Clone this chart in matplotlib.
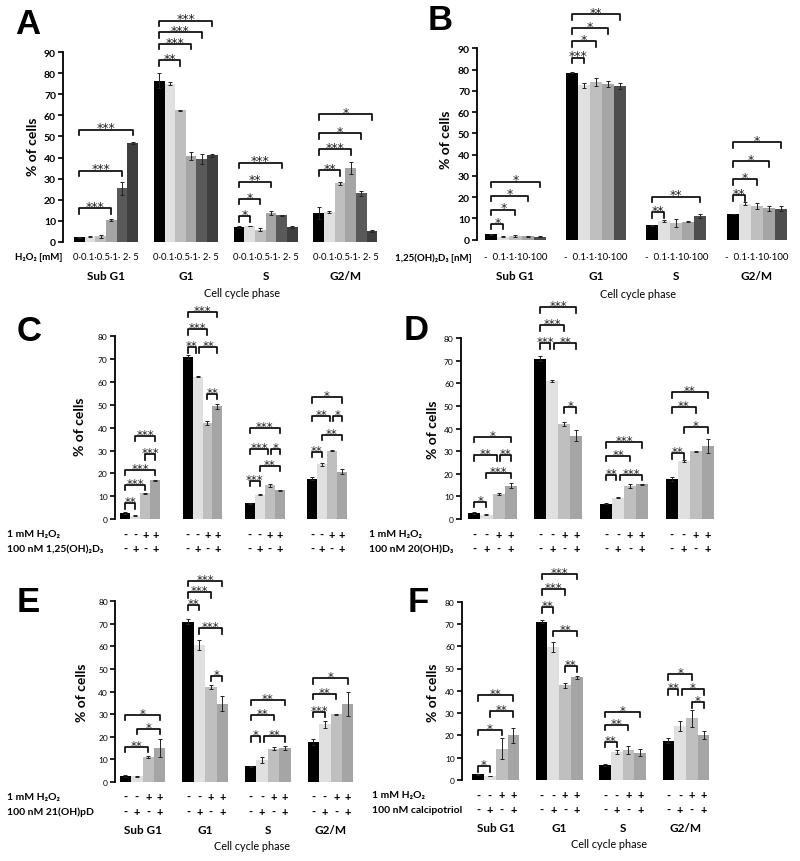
import numpy as np
import matplotlib.pyplot as plt
from matplotlib import transforms

plt.rcParams['font.family'] = ['Lato', 'DejaVu Sans']

W, H = 800, 862

phases = ['Sub G1', 'G1', 'S', 'G2/M']

# A: H2O2 dose (0, 0.1, 0.5, 1, 2, 5 mM)
a_vals = [[2.2, 2.5, 2.7, 10.5, 25.4, 46.8],
          [76.5, 75.0, 62.3, 40.8, 39.3, 41.0],
          [7.2, 7.6, 5.9, 13.6, 12.7, 7.2],
          [13.8, 14.2, 27.8, 35.2, 23.0, 5.3]]
a_errs = [[0.3, 0.3, 0.8, 0.6, 3.2, 0.4],
          [3.5, 0.7, 0.3, 2.0, 2.5, 0.8],
          [0.6, 0.2, 0.5, 1.0, 0.3, 0.5],
          [3.0, 0.3, 0.8, 2.8, 1.2, 0.4]]
a_sig = [(0, 0, 3, 16.0, '***'), (0, 0, 4, 33.8, '***'), (0, 0, 5, 53.2, '***'),
         (1, 0, 2, 86.2, '**'), (1, 0, 3, 93.8, '***'), (1, 0, 4, 99.3, '***'), (1, 0, 5, 104.8, '***'),
         (2, 0, 1, 12.2, '*'), (2, 0, 2, 20.4, '*'), (2, 0, 3, 28.6, '**'), (2, 0, 4, 37.6, '***'),
         (3, 0, 2, 34.1, '**'), (3, 0, 3, 44.0, '***'), (3, 0, 4, 51.6, '*'), (3, 0, 5, 60.6, '*')]

# B: 1,25(OH)2D3 dose (-, 0.1, 1, 10, 100 nM)
b_vals = [[2.5, 1.5, 1.7, 1.6, 1.5],
          [78.6, 72.5, 74.2, 73.3, 72.3],
          [6.7, 8.8, 8.0, 8.4, 11.2],
          [12.0, 17.0, 15.8, 14.7, 14.6]]
b_errs = [[0.2, 0.2, 0.3, 0.3, 0.2],
          [0.3, 1.0, 1.8, 1.5, 1.3],
          [0.3, 0.5, 1.8, 0.3, 1.1],
          [0.1, 0.5, 1.3, 1.2, 1.2]]
b_sig = [(0, 0, 1, 7.4, '*'), (0, 0, 2, 14.1, '*'), (0, 0, 3, 20.7, '*'), (0, 0, 4, 27.3, '*'),
         (1, 0, 1, 85.6, '***'), (1, 0, 2, 93.3, '*'), (1, 0, 3, 99.4, '*'), (1, 0, 4, 106.1, '**'),
         (2, 0, 1, 12.9, '**'), (2, 0, 4, 20.2, '**'),
         (3, 0, 1, 21.0, '**'), (3, 0, 2, 28.5, '*'), (3, 0, 3, 36.9, '*'), (3, 0, 4, 45.8, '*')]

# C: H2O2 +/- 1,25(OH)2D3
c_vals = [[2.6, 1.5, 11.2, 17.0],
          [71.0, 62.3, 42.0, 49.3],
          [6.8, 10.7, 14.7, 12.6],
          [17.6, 23.9, 29.9, 20.7]]
c_errs = [[0.3, 0.2, 0.4, 0.3],
          [1.0, 0.3, 1.0, 1.0],
          [0.3, 0.3, 0.5, 0.3],
          [0.6, 0.6, 0.2, 1.2]]
c_sig = [(0, 0, 1, 7.0, '**'), (0, 0, 2, 14.9, '***'), (0, 0, 3, 21.6, '***'), (0, 2, 3, 28.3, '***'), (0, 1, 3, 36.5, '***'),
         (1, 0, 0.85, 75.2, '**'), (1, 1.15, 3, 75.2, '**'), (1, 0, 2, 83.2, '***'), (1, 0, 3, 90.8, '***'), (1, 2, 3, 54.8, '**'),
         (2, 0, 1, 16.8, '***'), (2, 1, 3, 23.4, '**'), (2, 0, 1.85, 30.7, '***'), (2, 2.15, 3, 30.7, '*'), (2, 0, 3, 39.9, '***'),
         (3, 0, 1, 29.5, '**'), (3, 1, 3, 36.8, '**'), (3, 0, 1.85, 45.3, '**'), (3, 2.15, 3, 45.3, '*'), (3, 0, 3, 53.3, '*')]

# D: H2O2 +/- 20(OH)D3
d_vals = [[2.6, 1.8, 11.2, 14.8],
          [71.0, 61.0, 42.0, 36.8],
          [6.8, 9.5, 14.7, 15.4],
          [17.6, 25.7, 29.9, 32.3]]
d_errs = [[0.3, 0.2, 0.5, 1.2],
          [1.0, 0.3, 1.0, 2.5],
          [0.2, 0.4, 0.8, 0.3],
          [1.0, 0.5, 0.2, 3.0]]
d_sig = [(0, 0, 1, 7.7, '*'), (0, 1, 3, 20.4, '***'), (0, 0, 1.85, 28.3, '**'), (0, 2.15, 3, 28.3, '**'), (0, 0, 3, 36.4, '*'),
         (1, 0, 0.85, 77.7, '***'), (1, 1.15, 3, 77.7, '**'), (1, 0, 2, 85.8, '***'), (1, 0, 3, 93.7, '***'), (1, 2, 3, 49.4, '*'),
         (2, 0, 0.85, 19.5, '**'), (2, 1.15, 3, 19.5, '***'), (2, 0, 2, 28.0, '**'), (2, 0, 3, 33.9, '***'),
         (3, 0, 1, 29.2, '**'), (3, 1, 3, 40.6, '*'), (3, 0, 2, 49.4, '**'), (3, 0, 3, 56.0, '**')]

# E: H2O2 +/- 21(OH)pD
e_vals = [[2.6, 2.5, 11.0, 14.8],
          [71.0, 60.6, 42.0, 34.6],
          [6.8, 9.6, 14.6, 15.0],
          [17.6, 25.5, 29.9, 34.5]]
e_errs = [[0.3, 0.2, 0.5, 4.0],
          [1.0, 2.2, 0.8, 3.2],
          [0.2, 1.3, 0.6, 1.0],
          [1.2, 1.5, 0.2, 5.5]]
e_sig = [(0, 0, 2, 15.5, '**'), (0, 1, 3, 23.4, '*'), (0, 0, 3, 29.7, '*'),
         (1, 2, 3, 47.0, '*'), (1, 1, 3, 68.0, '***'), (1, 0, 1, 78.4, '**'), (1, 0, 2, 84.0, '***'), (1, 0, 3, 89.1, '***'),
         (2, 0, 0.85, 20.1, '*'), (2, 1.15, 3, 20.1, '**'), (2, 0, 2, 29.7, '**'), (2, 0, 3, 36.4, '**'),
         (3, 0, 1, 31.0, '***'), (3, 0, 2, 38.9, '**'), (3, 0, 3, 45.9, '*')]

# F: H2O2 +/- calcipotriol
f_vals = [[2.6, 1.8, 14.0, 20.0],
          [71.0, 59.5, 42.5, 46.0],
          [6.8, 12.5, 13.6, 12.2],
          [17.6, 24.3, 27.6, 20.1]]
f_errs = [[0.3, 0.2, 4.8, 3.2],
          [0.8, 2.3, 1.2, 0.6],
          [0.3, 0.8, 1.8, 1.6],
          [1.2, 2.2, 3.8, 1.8]]
f_sig = [(0, 0, 1, 6.1, '*'), (0, 0, 2, 22.6, '*'), (0, 1, 3, 30.8, '**'), (0, 0, 3, 38.1, '**'),
         (1, 2, 3, 51.0, '**'), (1, 1, 3, 67.0, '**'), (1, 0, 1, 77.4, '**'), (1, 0, 2, 85.6, '***'), (1, 0, 3, 92.4, '***'),
         (2, 0, 1, 17.2, '**'), (2, 0, 2, 24.7, '**'), (2, 0, 3, 30.6, '*'),
         (3, 2, 3, 34.8, '*'), (3, 0, 0.85, 40.8, '**'), (3, 1.15, 3, 40.8, '*'), (3, 0, 2, 47.5, '*')]

h2o2_row = ['-', '-', '+', '+']
drug_row = ['-', '+', '-', '+']

grays = ['#000000', '#e0e0e0', '#bfbfbf', '#a5a5a5', '#595959', '#3f3f3f']
grays_b = ['#000000', '#e0e0e0', '#bfbfbf', '#a5a5a5', '#4d4d4d']

fig = plt.figure(figsize=(W / 100, H / 100), dpi=100)


def ftext(x, y, s, **kw):
    fig.text(x / W, 1 - y / H, s, **kw)


def make_panel(x_spine, x_right, y_zero, ppu, ytop, first_center, period):
    ax = fig.add_axes([x_spine / W, 1 - y_zero / H, (x_right - x_spine) / W, ytop * ppu / H])
    x0 = -(first_center - x_spine) / period
    ax.set_xlim(x0, x0 + (x_right - x_spine) / period)
    ax.set_ylim(0, ytop)
    ax.patch.set_visible(False)
    for s in ['top', 'right', 'bottom']:
        ax.spines[s].set_visible(False)
    ax.set_xticks([])
    ax.spines['left'].set_linewidth(1.3)
    return ax


def bar_x(g, k, n, width):
    return g - width / 2 + (k + 0.5) * width / n


def draw(ax, vals, errs, colors, width, ymax, ppu, sig, tick_fs, tick_bold, star_fs, star_dy):
    n = len(colors)
    vals = np.array(vals)
    errs = np.array(errs)
    groups = np.arange(len(vals))
    for k in range(n):
        ax.bar(bar_x(groups, k, n, width), vals[:, k], width / n, color=colors[k],
               yerr=errs[:, k], error_kw=dict(ecolor='#222222', elinewidth=0.7, capsize=1.3, capthick=0.7))
    ax.spines['left'].set_bounds(0, ymax)
    ax.set_yticks(np.arange(0, ymax + 1, 10))
    ax.tick_params(axis='y', length=3.5, width=1.2, pad=1.5, labelsize=tick_fs)
    for lab in ax.get_yticklabels():
        lab.set_fontweight('bold' if tick_bold else 'normal')
    h = 5.5 / ppu
    for g, i, j, y, s in sig:
        x1, x2 = bar_x(g, i, n, width), bar_x(g, j, n, width)
        ax.plot([x1, x1, x2, x2], [y - h, y, y, y - h], color='k', lw=1.2, clip_on=False)
        ax.annotate(s, ((x1 + x2) / 2, y), xytext=(0, star_dy), textcoords='offset points',
                    ha='center', va='baseline', fontsize=star_fs, color='#222222', family='DejaVu Sans')


def under_text(ax, xs, y_px, labels, **kw):
    tr = transforms.blended_transform_factory(ax.transData, fig.transFigure)
    for x, s in zip(xs, labels):
        ax.text(x, 1 - y_px / H, s, transform=tr, ha='center', va='center', **kw)


# ---- panel A
axA = make_panel(63, 392, 243, 2.111, 112, 106, 79.8)
draw(axA, a_vals, a_errs, grays, 0.80, 90, 2.111, a_sig, 7.5, True, 9, -1.2)
under_text(axA, range(4), 258, ['0·0.1·0.5·1· 2· 5'] * 4, fontsize=6.8)
under_text(axA, range(4), 276.5, phases, fontsize=8.5, fontweight='bold')
ftext(15, 258, 'H₂O₂ [mM]', fontsize=7, fontweight='bold', va='center')
ftext(242, 293.5, 'Cell cycle phase', fontsize=7.8, ha='center', va='center')
ftext(33, 147, '% of cells', fontsize=10, fontweight='bold', rotation=90, ha='center', va='center')
ftext(28, 24, 'A', fontsize=25, fontweight='bold', family='Liberation Sans', ha='center', va='center')

# ---- panel B
axB = make_panel(477, 795, 240.7, 2.127, 112, 515.5, 80.4)
draw(axB, b_vals, b_errs, grays_b, 0.75, 90, 2.127, b_sig, 7.5, True, 9, -1.2)
under_text(axB, range(4), 258, ['-  0.1·1·10·100'] * 4, fontsize=7)
under_text(axB, range(4), 277, phases, fontsize=8.5, fontweight='bold')
ftext(395, 258, '1,25(OH)₂D₃ [nM]', fontsize=7, fontweight='bold', va='center')
ftext(638, 294, 'Cell cycle phase', fontsize=7.8, ha='center', va='center')
ftext(446, 140, '% of cells', fontsize=10, fontweight='bold', rotation=90, ha='center', va='center')
ftext(440, 21, 'B', fontsize=25, fontweight='bold', family='Liberation Sans', ha='center', va='center')

# ---- panels C-F
lower = [
    # vals, errs, sig, spine, right, y0, ppu, ytop, first, period, width, drug, label_x, ylab, letter
    (c_vals, c_errs, c_sig, 114.5, 390, 520, 2.283, 97, 140.3, 62.2, 0.64, '100 nM 1,25(OH)₂D₃', 6.7, (80, 427), (29, 332), 'C'),
    (d_vals, d_errs, d_sig, 460.7, 790, 520, 2.26, 100, 492.5, 65.8, 0.73, '100 nM 20(OH)D₃', 369, (433, 430), (416, 331), 'D'),
    (e_vals, e_errs, e_sig, 115, 390, 782.7, 2.255, 95, 142.5, 62.7, 0.73, '100 nM 21(OH)pD', 6.7, (82, 693), (28, 603), 'E'),
    (f_vals, f_errs, f_sig, 461.7, 790, 781, 2.23, 98, 495.8, 63.4, 0.74, '100 nM calcipotriol', 372, (433, 693), (418, 603), 'F'),
]

for (vals, errs, sig, xs, xr, y0, ppu, ytop, fc, per, w, drug, lx, ylab, lpos, letter) in lower:
    ax = make_panel(xs, xr, y0, ppu, ytop, fc, per)
    draw(ax, vals, errs, grays[:4], w, 80, ppu, sig, 6, False, 8.5, -1.4)
    row1, row2 = y0 + 15, y0 + 29.5
    for g in range(4):
        xb = [bar_x(g, k, 4, w) for k in range(4)]
        under_text(ax, xb, row1, h2o2_row, fontsize=8, fontweight='bold')
        under_text(ax, xb, row2, drug_row, fontsize=8, fontweight='bold')
    ftext(lx, row1, '1 mM H₂O₂', fontsize=7.5, fontweight='bold', va='center')
    ftext(lx, row2, drug, fontsize=7.5, fontweight='bold', va='center')
    if letter in ('E', 'F'):
        under_text(ax, range(4), y0 + 47.5, phases, fontsize=8.5, fontweight='bold')
        ftext(xs + (137 if letter == 'E' else 147), y0 + 64, 'Cell cycle phase', fontsize=7.8, ha='center', va='center')
    ftext(ylab[0], ylab[1], '% of cells', fontsize=10, fontweight='bold', rotation=90, ha='center', va='center')
    ftext(lpos[0], lpos[1], letter, fontsize=25, fontweight='bold', family='Liberation Sans', ha='center', va='center')

fig.savefig('out.png', dpi=100)
